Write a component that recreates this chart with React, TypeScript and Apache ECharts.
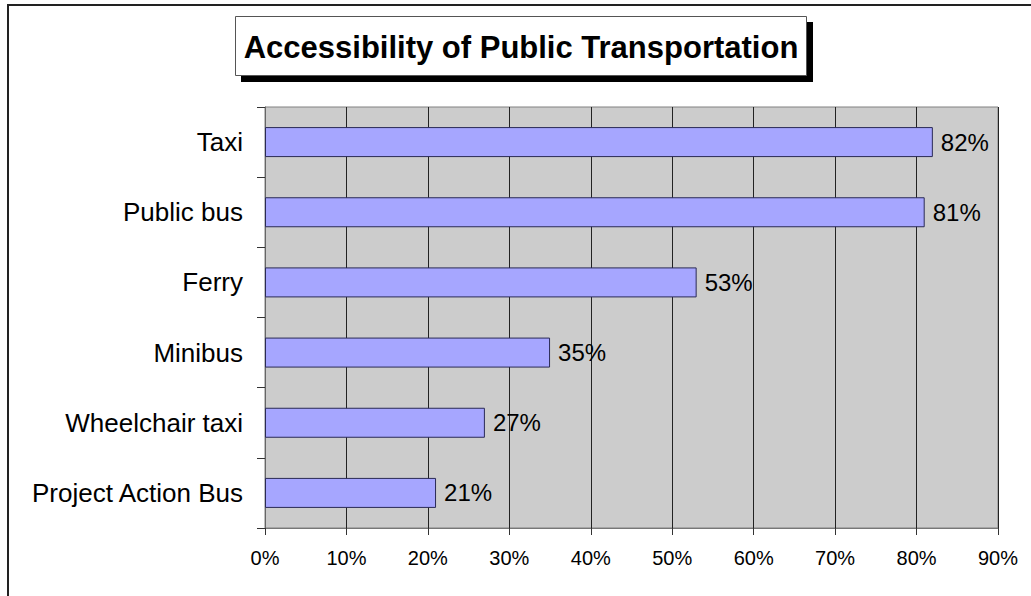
import React, { useEffect, useRef } from "react";
import * as echarts from "echarts";

const categories = ["Taxi", "Public bus", "Ferry", "Minibus", "Wheelchair taxi", "Project Action Bus"];
const values = [82, 81, 53, 35, 27, 21];
const titleText = "Accessibility of Public Transportation";
const xMin = 0;
const xMax = 90;
const xInterval = 10;

export default function App() {
  const ref = useRef<HTMLDivElement>(null);
  useEffect(() => {
    document.body.style.margin = "0";
    const chart = echarts.init(ref.current!, null, { renderer: "svg" });
    const font = "'Liberation Sans', Arial, sans-serif";
    chart.setOption({
      animation: false,
      backgroundColor: "#ffffff",
      graphic: [
        {
          type: "polyline",
          z: 0,
          shape: { points: [[8, 600], [8, 5], [1040, 5]] },
          style: { stroke: "#222", lineWidth: 2, fill: null },
          silent: true,
        },
        {
          type: "rect",
          z: 1,
          shape: { x: 241, y: 22, width: 572, height: 60 },
          style: { fill: "#000" },
          silent: true,
        },
        {
          type: "rect",
          z: 2,
          shape: { x: 235.5, y: 16.5, width: 571, height: 59 },
          style: { fill: "#fff", stroke: "#555", lineWidth: 1 },
          silent: true,
        },
        {
          type: "text",
          z: 3,
          x: 521,
          y: 47,
          style: {
            text: titleText,
            fill: "#000",
            font: "bold 31px " + font,
            align: "center",
            verticalAlign: "middle",
          },
        },
      ],
      grid: {
        left: 265,
        top: 107,
        right: 33,
        bottom: 68,
        show: true,
        backgroundColor: "#CCCCCC",
        borderColor: "#808080",
        borderWidth: 1,
      },
      xAxis: {
        type: "value",
        min: xMin,
        max: xMax,
        interval: xInterval,
        axisLine: { show: true, lineStyle: { color: "#777", width: 1 } },
        axisTick: { show: true, length: 7, lineStyle: { color: "#333" } },
        axisLabel: {
          formatter: "{value}%",
          fontSize: 20,
          fontFamily: font,
          color: "#000",
          margin: 20,
        },
        splitLine: { show: true, lineStyle: { color: "#222", width: 1 } },
      },
      yAxis: {
        type: "category",
        inverse: true,
        data: categories,
        axisLine: { show: true, lineStyle: { color: "#666", width: 1 } },
        axisTick: { show: true, length: 8, lineStyle: { color: "#333" } },
        axisLabel: {
          fontSize: 26,
          fontFamily: font,
          color: "#000",
          margin: 22,
        },
        splitLine: { show: false },
      },
      series: [
        {
          type: "bar",
          data: values,
          barWidth: 30,
          itemStyle: { color: "#A6A6FF", borderColor: "#2a2a55", borderWidth: 1 },
          label: {
            show: true,
            position: "right",
            distance: 8,
            formatter: "{c}%",
            fontSize: 24,
            fontFamily: font,
            color: "#000",
          },
        },
      ],
    });
    return () => chart.dispose();
  }, []);
  return <div ref={ref} style={{ width: 1031, height: 596 }} />;
}
